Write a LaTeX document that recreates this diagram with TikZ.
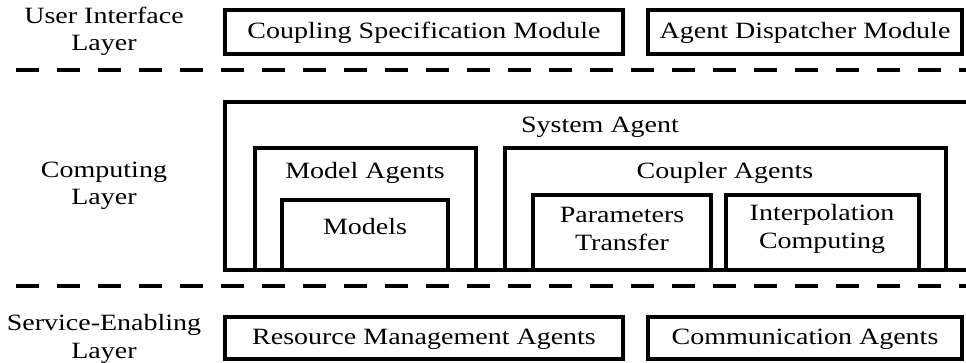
\documentclass[tikz,border=0pt]{standalone}
\usepackage{fontspec}
\setmainfont{Liberation Serif}[FakeStretch=1.2]

\tikzset{every picture/.style={line width=0.75pt}}

\begin{document}
\begin{tikzpicture}[
            x=0.75pt,
            y=0.75pt,
            yscale=-1,
            xscale=1,
            every node/.style={text=black, font=\fontsize{17.5pt}{20.5pt}\selectfont, align=center, inner sep=0.75pt},
            layerbox/.style={draw=black, line width=3.6pt},
            layersep/.style={draw=black, line width=2.7pt, dash pattern=on 17.25pt off 13.5pt},
            line width=0.75pt
        ]
            \useasboundingbox (0,0) rectangle (966,362);

            % user interface layer
            \draw [layerbox] (225,10) -- (623,10) -- (623,54) -- (225,54) -- cycle ;
            \draw [layerbox] (648,10) -- (962,10) -- (962,54) -- (648,54) -- cycle ;
            \draw (424,33) node (csm) {Coupling Specification Module};
            \draw (805,33) node (adm) {Agent Dispatcher Module};
            \draw (104,31) node (uil) {User Interface\\Layer};

            \draw [layersep] (16,70) -- (966,70) ;

            % computing layer
            \draw [layerbox] (975,102) -- (225,102) -- (225,270) -- (975,270) ;
            \draw [layerbox] (255,148) -- (476,148) -- (476,270) -- (255,270) -- cycle ;
            \draw [layerbox] (282,200) -- (448,200) -- (448,270) -- (282,270) -- cycle ;
            \draw [layerbox] (505,148) -- (946,148) -- (946,270) -- (505,270) -- cycle ;
            \draw [layerbox] (533,195) -- (711,195) -- (711,270) -- (533,270) -- cycle ;
            \draw [layerbox] (726,195) -- (919,195) -- (919,270) -- (726,270) -- cycle ;
            \draw (600,127) node (sys) {System Agent};
            \draw (365,173) node (mag) {Model Agents};
            \draw (365,227) node (mod) {Models};
            \draw (725,173) node (cag) {Coupler Agents};
            \draw (622,229) node (ptr) {Parameters\\Transfer};
            \draw (822,229) node (ico) {Interpolation\\Computing};
            \draw (104,186) node (cpl) {Computing\\Layer};

            \draw [layersep] (16,286) -- (966,286) ;

            % service-enabling layer
            \draw [layerbox] (225,317) -- (623,317) -- (623,359) -- (225,359) -- cycle ;
            \draw [layerbox] (648,317) -- (962,317) -- (962,359) -- (648,359) -- cycle ;
            \draw (424,339) node (rma) {Resource Management Agents};
            \draw (805,339) node (cma) {Communication Agents};
            \draw (104,339) node (sel) {Service-Enabling\\Layer};
        \end{tikzpicture}
\end{document}
